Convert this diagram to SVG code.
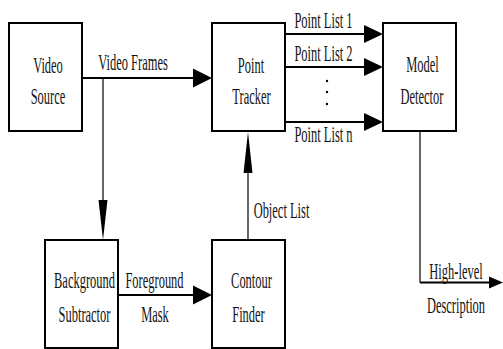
<svg xmlns="http://www.w3.org/2000/svg" width="503" height="349" viewBox="0 0 503 349">
<style>
  .box { fill: #fff; stroke: #000; stroke-width: 2; }
  .t { font-family: "Liberation Serif", "Times New Roman", serif; font-size: 24px; fill: #141414; text-anchor: middle; }
  .thick { stroke: #000; stroke-width: 2; fill: none; }
  .thin { stroke: #000; stroke-width: 1.2; fill: none; }
  .head { fill: #000; stroke: none; }
</style>
<rect width="503" height="349" fill="#fff"/>
<g id="connectors">
  <line class="thick" x1="82" y1="78" x2="194" y2="78"/>
  <polygon class="head" points="193,68.5 212,78 193,87.5"/>
  <line class="thin" x1="103" y1="78" x2="103" y2="201"/>
  <polygon class="head" points="98.5,200 107.5,200 103,240"/>
  <line class="thick" x1="285" y1="34" x2="365" y2="34"/>
  <polygon class="head" points="364,25 383,34 364,43"/>
  <line class="thick" x1="285" y1="67" x2="365" y2="67"/>
  <polygon class="head" points="364,58 383,67 364,76"/>
  <line class="thick" x1="285" y1="122" x2="365" y2="122"/>
  <polygon class="head" points="364,113 383,122 364,131"/>
  <line class="thin" x1="248" y1="240" x2="248" y2="172"/>
  <polygon class="head" points="243.5,173 252.5,173 248,132"/>
  <line class="thick" x1="118" y1="295" x2="194" y2="295"/>
  <polygon class="head" points="193,285.5 212,295 193,304.5"/>
  <polyline class="thin" points="420,131 420,282.5"/>
  <line class="thick" x1="420" y1="282.5" x2="490" y2="282.5"/>
  <polygon class="head" points="489,276.5 503,282.5 489,288.5"/>
  <text class="t" transform="translate(133,70) scale(0.52,1)">Video Frames</text>
  <text class="t" transform="translate(323.5,28) scale(0.52,1)">Point List 1</text>
  <text class="t" transform="translate(323.5,61) scale(0.52,1)">Point List 2</text>
  <circle cx="327" cy="81" r="1.2" fill="#000"/>
  <circle cx="327" cy="92" r="1.2" fill="#000"/>
  <circle cx="327" cy="104" r="1.2" fill="#000"/>
  <text class="t" transform="translate(323.5,142) scale(0.52,1)">Point List n</text>
  <text class="t" transform="translate(281.5,218) scale(0.52,1)">Object List</text>
  <text class="t" transform="translate(154.5,288) scale(0.52,1)">Foreground</text>
  <text class="t" transform="translate(155,322) scale(0.52,1)">Mask</text>
  <text class="t" transform="translate(456,279) scale(0.52,1)">High-level</text>
  <text class="t" transform="translate(456,313) scale(0.52,1)">Description</text>
</g>
<g id="video-source">
  <rect class="box" x="9" y="23" width="73" height="108"/>
  <text class="t" transform="translate(48,73) scale(0.52,1)">Video</text>
  <text class="t" transform="translate(48,104) scale(0.52,1)">Source</text>
</g>
<g id="point-tracker">
  <rect class="box" x="212" y="23" width="73" height="108"/>
  <text class="t" transform="translate(251,73) scale(0.52,1)">Point</text>
  <text class="t" transform="translate(251.5,104) scale(0.52,1)">Tracker</text>
</g>
<g id="model-detector">
  <rect class="box" x="383" y="23" width="73" height="108"/>
  <text class="t" transform="translate(422.5,72) scale(0.52,1)">Model</text>
  <text class="t" transform="translate(422,104) scale(0.52,1)">Detector</text>
</g>
<g id="background-subtractor">
  <rect class="box" x="45" y="240" width="73" height="108"/>
  <text class="t" transform="translate(84.5,288) scale(0.52,1)">Background</text>
  <text class="t" transform="translate(84.5,322) scale(0.52,1)">Subtractor</text>
</g>
<g id="contour-finder">
  <rect class="box" x="212" y="240" width="73" height="108"/>
  <text class="t" transform="translate(251.5,288) scale(0.52,1)">Contour</text>
  <text class="t" transform="translate(248.5,322) scale(0.52,1)">Finder</text>
</g>
</svg>
